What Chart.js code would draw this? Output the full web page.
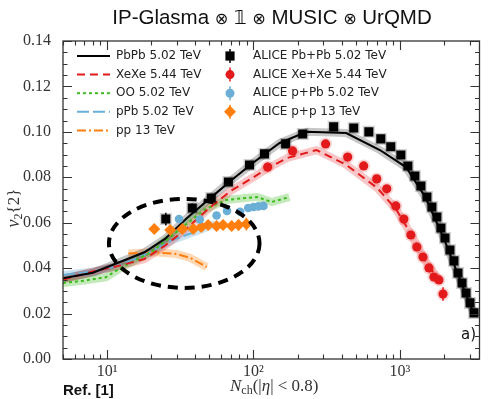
<!DOCTYPE html>
<html>
<head>
<meta charset="utf-8">
<script src="https://cdn.jsdelivr.net/npm/chart.js@4/dist/chart.umd.min.js"></script>
<style>
  html, body { margin: 0; padding: 0; background: #fff; }
  #wrap { width: 488px; height: 399px; }
</style>
</head>
<body>
<div id="wrap"><canvas id="c" width="488" height="399"></canvas></div>
<script>
// ---------- model curves (IP-Glasma + MUSIC + UrQMD) ----------
const pbpbModelN = [5, 8, 12, 18, 25, 35, 50, 70, 100, 150, 230, 430, 730, 1100, 1500, 2000, 2500, 3200];
const pbpbModelV = [0.0355, 0.0380, 0.0425, 0.0470, 0.0530, 0.0620, 0.0705, 0.0785, 0.0865, 0.0950, 0.1000, 0.0995, 0.0920, 0.0845, 0.0710, 0.0530, 0.0370, 0.0200];

const xexeModelN = [5, 8, 12, 18, 25, 35, 50, 70, 100, 125, 170, 270, 430, 700, 950, 1200, 1500, 1850];
const xexeModelV = [0.0350, 0.0385, 0.0410, 0.0440, 0.0500, 0.0575, 0.0665, 0.0740, 0.0800, 0.0840, 0.0885, 0.0920, 0.0855, 0.0753, 0.0656, 0.0546, 0.0430, 0.0348];

const ooModelN = [5, 7, 9.8, 12.7, 20, 31, 47, 65, 88, 106, 133, 176];
const ooModelV = [0.0335, 0.0345, 0.0360, 0.0405, 0.0470, 0.0568, 0.0660, 0.0700, 0.0709, 0.0713, 0.0691, 0.0713];

const ppbModelN = [5, 8, 12, 19, 28, 40, 55];
const ppbModelV = [0.0370, 0.0385, 0.0410, 0.0465, 0.0524, 0.0560, 0.0595];

const ppModelN = [14, 21, 30, 37, 48];
const ppModelV = [0.0465, 0.0470, 0.0462, 0.0445, 0.0405];

// ---------- ALICE measurements ----------
const pbpbN = [25.2, 38.2, 51.5, 67.4, 94, 119, 166, 217, 353, 484, 614, 741, 867, 1016, 1135, 1267, 1393, 1531, 1656, 1791, 1908, 2034, 2199, 2342, 2496, 2660, 2832, 3016, 3212];
const pbpbV = [0.0616, 0.0665, 0.0709, 0.0779, 0.0854, 0.0903, 0.0947, 0.0991, 0.1022, 0.1017, 0.1000, 0.0969, 0.0934, 0.0898, 0.0850, 0.0806, 0.0762, 0.0713, 0.0669, 0.0625, 0.0577, 0.0533, 0.0480, 0.0432, 0.0379, 0.0335, 0.0291, 0.0247, 0.0203];
const pbpbErr = [0.0028, 0.0020, 0.0012, 0.0010, 0.0008, 0.0008, 0.0008, 0.0008, 0.0008, 0.0008, 0.0008, 0.0008, 0.0008, 0.0008, 0.0008, 0.0008, 0.0008, 0.0008, 0.0008, 0.0008, 0.0008, 0.0008, 0.0008, 0.0008, 0.0008, 0.0008, 0.0008, 0.0008, 0.0008];

const xexeN = [125, 185, 311, 440, 566, 695, 814, 939, 1065, 1189, 1306, 1438, 1580, 1709, 1849, 1972];
const xexeV = [0.0845, 0.0916, 0.0947, 0.0889, 0.0850, 0.0793, 0.0749, 0.0674, 0.0616, 0.0546, 0.0493, 0.0449, 0.0401, 0.0361, 0.0348, 0.0286];
const xexeErr = [0.0020, 0.0015, 0.0015, 0.0012, 0.0012, 0.0012, 0.0012, 0.0012, 0.0012, 0.0012, 0.0012, 0.0012, 0.0012, 0.0012, 0.0015, 0.0030];

const ppbN = [31, 43, 56, 66, 81, 92, 100, 108, 117];
const ppbV = [0.0616, 0.0614, 0.0632, 0.0652, 0.0648, 0.0665, 0.0669, 0.0672, 0.0674];
const ppbErr = [0.0008, 0.0008, 0.0008, 0.0008, 0.0008, 0.0008, 0.0010, 0.0012, 0.0015];

const ppN = [21, 27, 32.7, 38.8, 44, 49, 56, 62, 71, 79, 89.5];
const ppV = [0.0572, 0.0568, 0.0572, 0.0572, 0.0581, 0.0590, 0.0586, 0.0590, 0.0586, 0.0590, 0.0594];
const ppErr = [0.0008, 0.0008, 0.0008, 0.0010, 0.0012, 0.0015, 0.0015, 0.0018, 0.0020, 0.0025, 0.0028];

// ---------- axis ticks ----------
const xMajorTicks = [10, 100, 1000];
const xMinorTicks = [5, 6, 7, 8, 9, 20, 30, 40, 50, 60, 70, 80, 90, 200, 300, 400, 500, 600, 700, 800, 900, 2000, 3000];
const xTickLabels = { 10: '10\u00B9', 100: '10\u00B2', 1000: '10\u00B3' };
const yMajorTicks = [0, 0.02, 0.04, 0.06, 0.08, 0.10, 0.12, 0.14];

// highlighted small-system region (data space)
const ellipseSpan = { nMin: 10.3, nMax: 110, vMin: 0.0313, vMax: 0.0705 };

const C = {
  black: '#000000',
  red: '#e31a1c',
  green: '#3dbb1f',
  blue: '#6baed6',
  orange: '#ff7f0e'
};

const pts = (n, v) => n.map((x, i) => ({ x, y: v[i] }));

function bandSet(n, v, rgba) {
  return { data: pts(n, v), showLine: true, borderColor: rgba, borderWidth: 8,
    pointRadius: 0, borderJoinStyle: 'round', borderCapStyle: 'butt', order: 4 };
}
function lineSet(n, v, color, dash) {
  return { data: pts(n, v), showLine: true, borderColor: color, borderWidth: 2,
    borderDash: dash, pointRadius: 0, order: 3 };
}
function markSet(n, v, color, style, r, errs) {
  return { data: pts(n, v), showLine: false, backgroundColor: color, borderColor: color,
    borderWidth: 0, pointStyle: style, pointRadius: r, pointHoverRadius: r, errors: errs, order: 0 };
}
function haloSet(n, v, rgba, style, r) {
  return { data: pts(n, v), showLine: false, backgroundColor: rgba, borderColor: rgba,
    borderWidth: 0, pointStyle: style, pointRadius: r, order: 1 };
}

const datasets = [
  bandSet(pbpbModelN, pbpbModelV, 'rgba(0,0,0,0.22)'),
  bandSet(xexeModelN, xexeModelV, 'rgba(227,26,28,0.25)'),
  bandSet(ooModelN, ooModelV, 'rgba(61,187,31,0.30)'),
  bandSet(ppbModelN, ppbModelV, 'rgba(107,174,214,0.35)'),
  bandSet(ppModelN, ppModelV, 'rgba(255,127,14,0.30)'),
  lineSet(pbpbModelN, pbpbModelV, C.black, []),
  lineSet(xexeModelN, xexeModelV, C.red, [8, 5]),
  lineSet(ooModelN, ooModelV, C.green, [3, 3]),
  lineSet(ppbModelN, ppbModelV, C.blue, [12, 4]),
  lineSet(ppModelN, ppModelV, C.orange, [9, 3, 2, 3]),
  haloSet(pbpbN, pbpbV, 'rgba(0,0,0,0.18)', 'rect', 8.5),
  haloSet(xexeN, xexeV, 'rgba(227,26,28,0.18)', 'circle', 6.5),
  markSet(ppbN, ppbV, C.blue, 'circle', 4.3, ppbErr),
  markSet(ppN, ppV, C.orange, 'rectRot', 6, ppErr),
  markSet(xexeN, xexeV, C.red, 'circle', 4.6, xexeErr),
  markSet(pbpbN, pbpbV, C.black, 'rect', 6.4, pbpbErr)
];

function drawMarker(ctx, style, x, y, color) {
  ctx.save();
  ctx.fillStyle = color;
  ctx.strokeStyle = color;
  ctx.lineWidth = 1.5;
  ctx.beginPath(); ctx.moveTo(x, y - 7); ctx.lineTo(x, y + 7); ctx.stroke();
  ctx.beginPath();
  if (style === 'rect') ctx.rect(x - 4.6, y - 4.6, 9.2, 9.2);
  else if (style === 'circle') ctx.arc(x, y, 4.5, 0, Math.PI * 2);
  else if (style === 'rectRot') { ctx.moveTo(x - 6, y); ctx.lineTo(x, y - 6); ctx.lineTo(x + 6, y); ctx.lineTo(x, y + 6); ctx.closePath(); }
  ctx.fill();
  ctx.restore();
}

const legendLines = [
  { text: 'PbPb 5.02 TeV', color: C.black, dash: [] },
  { text: 'XeXe 5.44 TeV', color: C.red, dash: [8, 5] },
  { text: 'OO 5.02 TeV', color: C.green, dash: [3, 3] },
  { text: 'pPb 5.02 TeV', color: C.blue, dash: [12, 4] },
  { text: 'pp 13 TeV', color: C.orange, dash: [9, 3, 2, 3] }
];
const legendMarks = [
  { text: 'ALICE Pb+Pb 5.02 TeV', color: C.black, style: 'rect' },
  { text: 'ALICE Xe+Xe 5.44 TeV', color: C.red, style: 'circle' },
  { text: 'ALICE p+Pb 5.02 TeV', color: C.blue, style: 'circle' },
  { text: 'ALICE p+p 13 TeV', color: C.orange, style: 'rectRot' }
];

// draws a run of text pieces [text, font, dy] left to right, centred on cx
function drawRuns(ctx, runs, cx, baseY) {
  let total = 0;
  runs.forEach(r => { ctx.font = r[1]; total += ctx.measureText(r[0]).width; });
  let x = cx - total / 2;
  runs.forEach(r => {
    ctx.font = r[1];
    ctx.fillText(r[0], x, baseY + (r[2] || 0));
    x += ctx.measureText(r[0]).width;
  });
}

const decor = {
  id: 'decor',
  beforeDraw(chart) {
    const { ctx, width, height } = chart;
    ctx.save(); ctx.fillStyle = '#fff'; ctx.fillRect(0, 0, width, height); ctx.restore();
  },
  afterDatasetsDraw(chart) {
    const { ctx, chartArea: a, scales: { x, y } } = chart;
    // statistical error bars
    ctx.save();
    ctx.beginPath(); ctx.rect(a.left, a.top, a.right - a.left, a.bottom - a.top); ctx.clip();
    chart.data.datasets.forEach(ds => {
      if (!ds.errors) return;
      ctx.strokeStyle = ds.backgroundColor; ctx.lineWidth = 1.5;
      ds.data.forEach((p, i) => {
        const e = ds.errors[i];
        const px = x.getPixelForValue(p.x);
        ctx.beginPath();
        ctx.moveTo(px, y.getPixelForValue(p.y - e));
        ctx.lineTo(px, y.getPixelForValue(p.y + e));
        ctx.stroke();
      });
    });
    // dashed ellipse around the small-system region
    const x1 = x.getPixelForValue(ellipseSpan.nMin), x2 = x.getPixelForValue(ellipseSpan.nMax);
    const y1 = y.getPixelForValue(ellipseSpan.vMax), y2 = y.getPixelForValue(ellipseSpan.vMin);
    ctx.strokeStyle = '#000'; ctx.lineWidth = 4; ctx.setLineDash([10, 7]);
    ctx.beginPath();
    ctx.ellipse((x1 + x2) / 2, (y1 + y2) / 2, (x2 - x1) / 2, (y2 - y1) / 2, 0, 0, Math.PI * 2);
    ctx.stroke();
    ctx.restore();
  },
  afterDraw(chart) {
    const { ctx, chartArea: a, scales: { x, y } } = chart;
    ctx.save();
    // frame
    ctx.strokeStyle = '#333'; ctx.lineWidth = 1.3;
    ctx.strokeRect(a.left, a.top, a.right - a.left, a.bottom - a.top);
    // inward ticks on all four sides
    ctx.lineWidth = 1.1;
    ctx.beginPath();
    xMajorTicks.concat(xMinorTicks).forEach(v => {
      const px = Math.round(x.getPixelForValue(v)) + 0.5;
      const len = xMajorTicks.includes(v) ? 9 : 4.5;
      ctx.moveTo(px, a.bottom); ctx.lineTo(px, a.bottom - len);
      ctx.moveTo(px, a.top); ctx.lineTo(px, a.top + len);
    });
    for (let i = 0; i <= 28; i++) {
      const v = i * 0.005;
      const py = Math.round(y.getPixelForValue(v)) + 0.5;
      const len = i % 4 === 0 ? 9 : 4.5;
      ctx.moveTo(a.left, py); ctx.lineTo(a.left + len, py);
      ctx.moveTo(a.right, py); ctx.lineTo(a.right - len, py);
    }
    ctx.stroke();

    // title
    ctx.fillStyle = '#111';
    ctx.textBaseline = 'alphabetic';
    ctx.textAlign = 'left';
    drawRuns(ctx, [
      ['IP-Glasma ', '20.5px "Liberation Sans"'],
      ['\u2297', '16px "DejaVu Sans"'],
      [' ', '20.5px "Liberation Sans"'],
      ['\uD835\uDFD9', '20px "DejaVu Sans"'],
      [' ', '20.5px "Liberation Sans"'],
      ['\u2297', '16px "DejaVu Sans"'],
      [' MUSIC ', '20.5px "Liberation Sans"'],
      ['\u2297', '16px "DejaVu Sans"'],
      [' UrQMD', '20.5px "Liberation Sans"']
    ], 272, 24);

    // axis titles
    ctx.fillStyle = '#333';
    drawRuns(ctx, [
      ['N', 'italic 17px "Liberation Serif"'],
      ['ch', '12px "Liberation Serif"', 3],
      ['(|', '17px "Liberation Serif"'],
      ['\u03B7', 'italic 17px "Liberation Serif"'],
      ['| < 0.8)', '17px "Liberation Serif"']
    ], (a.left + a.right) / 2 + 3, 391);
    ctx.save();
    ctx.translate(19, (a.top + a.bottom) / 2 + 8);
    ctx.rotate(-Math.PI / 2);
    drawRuns(ctx, [
      ['v', 'italic 18px "Liberation Serif"'],
      ['2', '12px "Liberation Serif"', 3],
      ['{2}', '17px "Liberation Serif"']
    ], 0, 0);
    ctx.restore();

    // notes
    ctx.fillStyle = '#111';
    ctx.font = 'bold 15px "Liberation Sans"';
    ctx.fillText('Ref. [1]', a.left, 395);
    ctx.font = '15px "DejaVu Sans"';
    ctx.fillText('a)', 461, 339);

    // legend: model curves
    ctx.font = '12px "DejaVu Sans"';
    ctx.textBaseline = 'middle';
    legendLines.forEach((it, i) => {
      const yy = 56 + i * 18.6;
      ctx.strokeStyle = it.color; ctx.lineWidth = 2; ctx.setLineDash(it.dash);
      ctx.beginPath(); ctx.moveTo(77, yy); ctx.lineTo(110, yy); ctx.stroke();
      ctx.setLineDash([]);
      ctx.fillStyle = '#222';
      ctx.fillText(it.text, 116, yy);
    });
    // legend: measurements
    legendMarks.forEach((it, i) => {
      const yy = 56 + i * 18.6;
      drawMarker(ctx, it.style, 230, yy, it.color);
      ctx.fillStyle = '#222';
      ctx.fillText(it.text, 253, yy);
    });
    ctx.restore();
  }
};

new Chart(document.getElementById('c'), {
  type: 'scatter',
  data: { datasets },
  options: {
    responsive: false,
    animation: false,
    devicePixelRatio: 1,
    layout: { padding: { top: 41, right: 7, left: 0, bottom: 0 } },
    plugins: { legend: { display: false }, tooltip: { enabled: false } },
    scales: {
      x: {
        type: 'logarithmic',
        min: 5, max: 3500,
        grid: { display: false },
        border: { display: false },
        afterBuildTicks: s => { s.ticks = xMajorTicks.concat(xMinorTicks).sort((p, q) => p - q).map(v => ({ value: v })); },
        afterFit: s => { s.height = 40; },
        ticks: {
          autoSkip: false, maxRotation: 0, padding: -5, color: '#333',
          font: { family: '"Liberation Serif"', size: 16 },
          callback: v => xTickLabels[v] || ''
        }
      },
      y: {
        min: 0, max: 0.14,
        grid: { display: false },
        border: { display: false },
        afterBuildTicks: s => { s.ticks = yMajorTicks.map(v => ({ value: v })); },
        afterFit: s => { s.width = 63; },
        ticks: {
          padding: 4, color: '#333',
          font: { family: '"Liberation Serif"', size: 16 },
          callback: v => Number(v).toFixed(2)
        }
      }
    }
  },
  plugins: [decor]
});
</script>
</body>
</html>
